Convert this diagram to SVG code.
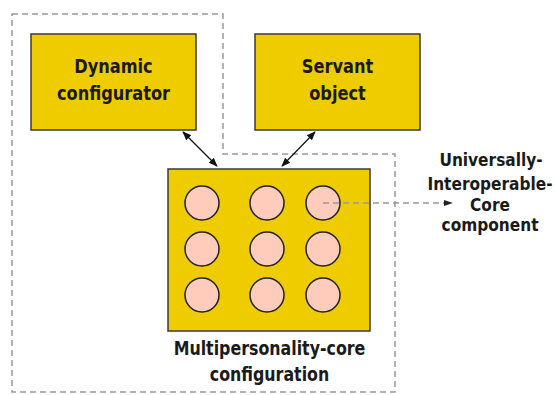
<svg xmlns="http://www.w3.org/2000/svg" width="556" height="395" viewBox="0 0 556 395">
<style>
.box{fill:#EECC00;stroke:#3a3a3a;stroke-width:1.5}
.dot{fill:#FFCCBB;stroke:#222;stroke-width:1.5}
.lbl{font-family:"DejaVu Sans Condensed","Liberation Sans",sans-serif;font-weight:bold;font-size:20px;fill:#1a1a1a;text-anchor:middle}
.side{font-size:18px}
.dash{fill:none;stroke:#999;stroke-width:1.5;stroke-dasharray:6,4}
.link{stroke:#111;stroke-width:1.2;fill:none}
</style>
<defs>
<marker id="ah" viewBox="0 0 10 10" refX="9" refY="5" markerWidth="9" markerHeight="9" markerUnits="userSpaceOnUse" orient="auto-start-reverse">
<path d="M0,1 L10,5 L0,9 Z" fill="#111"/>
</marker>
<marker id="ah2" viewBox="0 0 10 10" refX="9" refY="5" markerWidth="9" markerHeight="9" markerUnits="userSpaceOnUse" orient="auto">
<path d="M0,1.5 L10,5 L0,8.5 Z" fill="#222"/>
</marker>
</defs>
<path class="dash" d="M12,14 H223 V154 H395 V392 H12 Z"/>
<g id="dynamic-configurator">
<rect class="box" x="31" y="34" width="165" height="96"/>
<text class="lbl" transform="translate(113.5,73) scale(0.9,1)">Dynamic</text>
<text class="lbl" transform="translate(113.5,100) scale(0.9,1)">configurator</text>
</g>
<g id="servant-object">
<rect class="box" x="255" y="34" width="165" height="96"/>
<text class="lbl" transform="translate(337.5,73) scale(0.9,1)">Servant</text>
<text class="lbl" transform="translate(337.5,100) scale(0.9,1)">object</text>
</g>
<g id="multipersonality-core">
<rect class="box" x="168" y="169" width="202" height="162"/>
<circle class="dot" cx="202" cy="203" r="17"/>
<circle class="dot" cx="267" cy="203" r="17"/>
<circle class="dot" cx="323" cy="203" r="17"/>
<circle class="dot" cx="202" cy="249" r="17"/>
<circle class="dot" cx="267" cy="249" r="17"/>
<circle class="dot" cx="323" cy="249" r="17"/>
<circle class="dot" cx="202" cy="295" r="17"/>
<circle class="dot" cx="267" cy="295" r="17"/>
<circle class="dot" cx="323" cy="295" r="17"/>
<text class="lbl" transform="translate(269.5,355) scale(0.88,1)">Multipersonality-core</text>
<text class="lbl" transform="translate(269.5,381) scale(0.88,1)">configuration</text>
</g>
<g id="uic-component">
<text class="lbl side" transform="translate(491,166) scale(0.95,1)">Universally-</text>
<text class="lbl side" transform="translate(490,190) scale(0.95,1)">Interoperable-</text>
<text class="lbl side" transform="translate(490,211) scale(0.95,1)">Core</text>
<text class="lbl side" transform="translate(490,231) scale(0.95,1)">component</text>
</g>
<g id="connectors">
<line class="link" x1="183" y1="132" x2="217" y2="166" marker-start="url(#ah)" marker-end="url(#ah)"/>
<line class="link" x1="315" y1="132" x2="282" y2="166" marker-start="url(#ah)" marker-end="url(#ah)"/>
<line class="dash" x1="323" y1="203" x2="452" y2="203" marker-end="url(#ah2)"/>
</g>
</svg>
